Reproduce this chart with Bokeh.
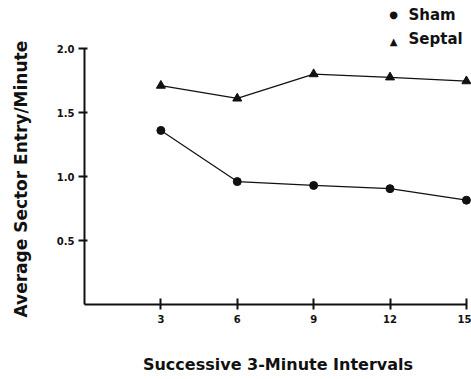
from bokeh.plotting import figure
from bokeh.models import Range1d, FixedTicker, Label, PrintfTickFormatter
from bokeh.embed import file_html
from bokeh.resources import INLINE

intervals = [3, 6, 9, 12, 15]
sham = [1.36, 0.96, 0.93, 0.905, 0.815]
septal = [1.71, 1.61, 1.80, 1.775, 1.745]
y_ticks = [0.5, 1.0, 1.5, 2.0]
x_label = "Successive 3-Minute Intervals"
y_label = "Average Sector Entry/Minute"
legend_names = ["Sham", "Septal"]

FONT = "DejaVu Sans"
INK = "#111111"
NBSP = "\u00A0"

LEFT, BOTTOM = 84, 75
p = figure(width=471, height=379, output_backend="svg", toolbar_location=None,
           x_range=Range1d(0, 15.2), y_range=Range1d(0, 2.375),
           min_border_left=LEFT, min_border_right=0, min_border_top=0, min_border_bottom=BOTTOM)
p.outline_line_color = None
p.xgrid.visible = False
p.ygrid.visible = False
p.background_fill_color = "white"
p.border_fill_color = "white"

p.line(intervals, sham, line_color=INK, line_width=1.2)
p.scatter(intervals, sham, marker="circle", size=8, fill_color=INK, line_color=INK)
p.line(intervals, septal, line_color=INK, line_width=1.2)
p.scatter(intervals, septal, marker="triangle", size=9, fill_color=INK, line_color=INK)

xa = p.xaxis[0]
xa.ticker = FixedTicker(ticks=intervals)
xa.bounds = (0, 15)
xa.minor_tick_line_color = None
xa.major_tick_in = 6
xa.major_tick_out = 5
xa.axis_line_width = 2
xa.major_tick_line_width = 2
xa.axis_line_color = INK
xa.major_tick_line_color = INK
xa.major_label_text_font = FONT
xa.major_label_text_font_style = "bold"
xa.major_label_text_font_size = "10px"
xa.major_label_text_color = INK
xa.major_label_standoff = 5
xa.axis_label = x_label
xa.axis_label_text_font = FONT
xa.axis_label_text_font_style = "bold"
xa.axis_label_text_font_size = "16px"
xa.axis_label_text_color = INK
xa.axis_label_standoff = 29

ya = p.yaxis[0]
ya.ticker = FixedTicker(ticks=y_ticks)
ya.formatter = PrintfTickFormatter(format="%.1f")
ya.bounds = (0, 2.0)
ya.minor_tick_line_color = None
ya.major_tick_in = 3
ya.major_tick_out = 6
ya.axis_line_width = 2
ya.major_tick_line_width = 2
ya.axis_line_color = INK
ya.major_tick_line_color = INK
ya.major_label_text_font = FONT
ya.major_label_text_font_style = "bold"
ya.major_label_text_font_size = "10px"
ya.major_label_text_color = INK
ya.major_label_standoff = 4
# the label is centred on the whole frame (which reaches the top of the page for the
# legend); trailing no-break spaces move the visible words down to sit beside the axis
ya.axis_label = y_label + NBSP * 9
ya.axis_label_text_font = FONT
ya.axis_label_text_font_style = "bold"
ya.axis_label_text_font_size = "17px"
ya.axis_label_text_color = INK
ya.axis_label_standoff = 23

# legend: screen units are relative to the frame's bottom-left corner (y upward)
frame_h = 379 - BOTTOM
for sym, name, sy, ty in [("\u25CF", legend_names[0], 14, 14.5), ("\u25B2", legend_names[1], 41, 38)]:
    p.add_layout(Label(x=393 - LEFT, y=frame_h - sy, x_units="screen", y_units="screen",
                       text=sym, text_font="DejaVu Sans", text_font_size="10px", text_color=INK,
                       text_align="center", text_baseline="middle"))
    p.add_layout(Label(x=408 - LEFT, y=frame_h - ty, x_units="screen", y_units="screen",
                       text=name, text_font=FONT, text_font_style="bold", text_font_size="15px",
                       text_color=INK, text_align="left", text_baseline="middle"))

open("out.html", "w").write(file_html(p, INLINE))
